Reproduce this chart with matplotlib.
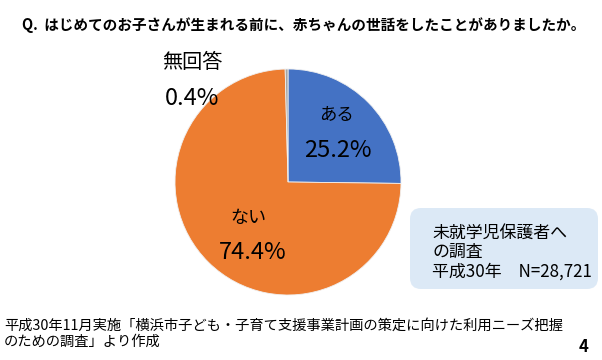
import matplotlib
matplotlib.use("Agg")
import matplotlib.pyplot as plt
from matplotlib.patches import FancyBboxPatch

plt.rcParams['font.family'] = ['Noto Sans CJK JP', 'DejaVu Sans']

# データ
labels = ["ある", "ない", "無回答"]
values = [25.2, 74.4, 0.4]
colors = ["#4472C4", "#ED7D31", "#A5A5A5"]

title = "Q.  はじめてのお子さんが生まれる前に、赤ちゃんの世話をしたことがありましたか。"
box_text = "未就学児保護者へ\nの調査\n平成30年　N=28,721"
source_text = "平成30年11月実施「横浜市子ども・子育て支援事業計画の策定に向けた利用ニーズ把握\nのための調査」より作成"
page_no = "4"

W, H = 602, 360
fig = plt.figure(figsize=(W / 100, H / 100), dpi=100)

# 円グラフ (中心 288,182 半径 113 px)
cx, cy, r = 288, 182, 113
ax = fig.add_axes([(cx - r) / W, (H - cy - r) / H, 2 * r / W, 2 * r / H])
ax.pie(values, colors=colors, startangle=90, counterclock=False,
       wedgeprops=dict(linewidth=0.6, edgecolor="#f0f0f0"))
ax.set_xlim(-1, 1)
ax.set_ylim(-1, 1)
ax.set_aspect("equal")
ax.axis("off")

# ラベル位置 (データ座標)
label_pos = [(0.43, 0.59), (-0.35, -0.32), (-0.85, 1.06)]
pct_pos = [(0.44, 0.28), (-0.31, -0.62), (-0.85, 0.74)]
label_size = [12.5, 13, 14.5]
for lab, v, lp, pp, fs in zip(labels, values, label_pos, pct_pos, label_size):
    ax.text(lp[0], lp[1], lab, ha="center", va="center", fontsize=fs, clip_on=False)
    ax.text(pp[0], pp[1], f"{v:.1f}%", ha="center", va="center", fontsize=17, clip_on=False)

# タイトル
fig.text(22 / W, 1 - 25 / H, title, fontsize=10.5, fontweight="bold", va="center", ha="left")

# 注記ボックス
bx = fig.add_axes([0, 0, 1, 1], facecolor="none")
bx.set_xlim(0, W)
bx.set_ylim(H, 0)
bx.axis("off")
bx.add_patch(FancyBboxPatch((410, 208), 188, 81, boxstyle="round,pad=0,rounding_size=11",
                            facecolor="#DCE9F6", edgecolor="none"))
bx.text(432, 252, box_text, fontsize=12.2, va="center", ha="left", linespacing=1.12)

# 出典
bx.text(4, 334, source_text, fontsize=10.3, va="center", ha="left", linespacing=1.15)
bx.text(584, 347, page_no, fontsize=12, fontweight="bold", va="center", ha="center")

fig.savefig("out.png", dpi=100)
